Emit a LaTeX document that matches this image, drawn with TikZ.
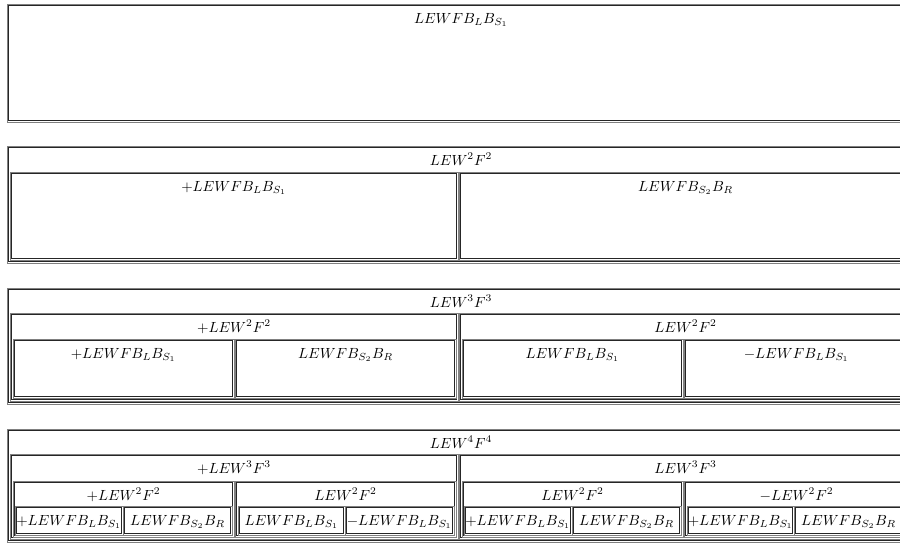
\documentclass[tikz,border=0pt]{standalone}
\usetikzlibrary{calc}
\tikzset{
  boxout/.style={draw=black!50, line width=0.55pt},
  boxin/.style={draw=black!85, line width=0.55pt},
  lbl/.style={anchor=base, inner sep=0pt, font=\normalsize}
}
\newcommand\mybox[6]{%
  \draw[boxout] (#1-1,#2-1) rectangle (#3+1,#4+1);
  \draw[boxin] (#1+0.8,#2+0.8) rectangle (#3-0.8,#4-0.8);
  \coordinate (#5) at ({(#1+#3)/2},#2);
  \node[lbl] (#5-t) at ($(#5)+(0,18)$) {$#6$};
}
\begin{document}
\begin{tikzpicture}[x=0.68pt,y=-0.68pt]
\path[fill=white] (0,0) rectangle (900,543);
\useasboundingbox (0,0) rectangle (900,543);
% level 1
\mybox{8}{5}{914}{121}{a}{LEWFB_LB_{S_1}}
% level 2
\mybox{8}{147}{914}{262}{b}{LEW^2F^2}
\mybox{11}{173}{457}{259}{b1}{+LEWFB_LB_{S_1}}
\mybox{460}{173}{911}{259}{b2}{LEWFB_{S_2}B_R}
% level 3
\mybox{8}{289}{914}{403}{c}{LEW^3F^3}
\mybox{11}{314}{457}{400}{c1}{+LEW^2F^2}
\mybox{460}{314}{911}{400}{c2}{LEW^2F^2}
\mybox{14}{340}{233}{397}{c11}{+LEWFB_LB_{S_1}}
\mybox{236}{340}{455}{397}{c12}{LEWFB_{S_2}B_R}
\mybox{463}{340}{682}{397}{c21}{LEWFB_LB_{S_1}}
\mybox{685}{340}{908}{397}{c22}{-LEWFB_LB_{S_1}}
% level 4
\mybox{8}{430}{914}{541}{d}{LEW^4F^4}
\mybox{11}{455}{457}{538}{d1}{+LEW^3F^3}
\mybox{460}{455}{911}{538}{d2}{LEW^3F^3}
\mybox{14}{482}{233}{536}{d11}{+LEW^2F^2}
\mybox{236}{482}{455}{536}{d12}{LEW^2F^2}
\mybox{463}{482}{682}{536}{d21}{LEW^2F^2}
\mybox{685}{482}{908}{536}{d22}{-LEW^2F^2}
\mybox{16}{507}{122}{534}{d111}{+LEWFB_LB_{S_1}}
\mybox{124}{507}{231}{534}{d112}{LEWFB_{S_2}B_R}
\mybox{239}{507}{344}{534}{d121}{LEWFB_LB_{S_1}}
\mybox{346}{507}{453}{534}{d122}{-LEWFB_LB_{S_1}}
\mybox{465}{507}{571}{534}{d211}{+LEWFB_LB_{S_1}}
\mybox{573}{507}{680}{534}{d212}{LEWFB_{S_2}B_R}
\mybox{688}{507}{793}{534}{d221}{+LEWFB_LB_{S_1}}
\mybox{795}{507}{902}{534}{d222}{LEWFB_{S_2}B_R}
\end{tikzpicture}
\end{document}
